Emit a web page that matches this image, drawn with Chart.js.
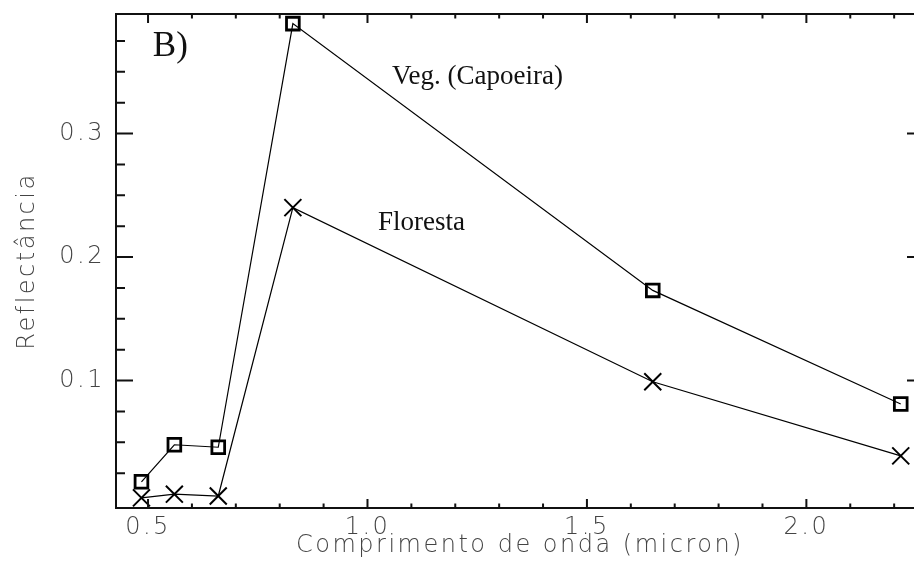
<!DOCTYPE html>
<html>
<head>
<meta charset="utf-8">
<script src="https://cdn.jsdelivr.net/npm/chart.js@4.4.0/dist/chart.umd.min.js"></script>
<style>
  html, body { margin: 0; padding: 0; background: #fff; overflow: hidden; }
  #wrap { width: 940px; height: 568px; }
</style>
</head>
<body>
<div id="wrap"><canvas id="spectraChart"></canvas></div>
<script>
// Landsat TM band centres (micron) and reflectance
const wavelengths = [0.485, 0.56, 0.66, 0.83, 1.65, 2.215];
const capoeira = [0.018, 0.048, 0.046, 0.389, 0.173, 0.081];
const floresta = [0.005, 0.008, 0.0065, 0.240, 0.099, 0.039];

const xTickLabels = [0.5, 1.0, 1.5, 2.0];
const yTickLabels = [0.1, 0.2, 0.3];
const xMinorTicks = [0.5, 0.6, 0.7, 0.8, 0.9, 1.0, 1.1, 1.2, 1.3, 1.4, 1.5, 1.6, 1.7, 1.8, 1.9, 2.0, 2.1, 2.2];
const yMinorTicks = [0.025, 0.05, 0.075, 0.1, 0.125, 0.15, 0.175, 0.2, 0.225, 0.25, 0.275, 0.3, 0.325, 0.35, 0.375];

// text notes placed in data units
const notes = [
  { text: 'B)', x: 0.511, y: 0.370, size: 35 },
  { text: 'Veg. (Capoeira)', x: 1.056, y: 0.346, size: 27 },
  { text: 'Floresta', x: 1.024, y: 0.2274, size: 27 }
];

const axisFont = { family: 'DejaVu Sans', size: 24, weight: 200 };
const axisColor = '#444';

const isMajor = (v, majors) => majors.some(m => Math.abs(m - v) < 1e-6);

const spacing = {
  id: 'spacing',
  beforeUpdate(chart) { chart.ctx.letterSpacing = '2.5px'; },
  beforeDraw(chart) { chart.ctx.letterSpacing = '2.5px'; }
};

const frameTicks = {
  id: 'frameTicks',
  afterDatasetsDraw(chart) {
    const { ctx, chartArea: a, scales: { x, y } } = chart;
    ctx.save();
    ctx.strokeStyle = '#111';
    ctx.lineWidth = 2;
    ctx.strokeRect(a.left, a.top, a.right - a.left, a.bottom - a.top);
    ctx.beginPath();
    xMinorTicks.forEach(v => {
      const px = x.getPixelForValue(v);
      const len = isMajor(v, xTickLabels) ? 9 : 4.5;
      ctx.moveTo(px, a.bottom); ctx.lineTo(px, a.bottom - len);
      ctx.moveTo(px, a.top); ctx.lineTo(px, a.top + len);
    });
    yMinorTicks.forEach(v => {
      const py = y.getPixelForValue(v);
      const len = isMajor(v, yTickLabels) ? 17 : 9;
      ctx.moveTo(a.left, py); ctx.lineTo(a.left + len, py);
      ctx.moveTo(a.right, py); ctx.lineTo(a.right - len, py);
    });
    ctx.stroke();

    // notes
    ctx.letterSpacing = '0px';
    ctx.fillStyle = '#111';
    ctx.textAlign = 'left';
    ctx.textBaseline = 'middle';
    notes.forEach(n => {
      ctx.font = n.size + 'px "Liberation Serif", "Times New Roman", serif';
      ctx.fillText(n.text, x.getPixelForValue(n.x), y.getPixelForValue(n.y));
    });
    ctx.restore();
  }
};

const ctx = document.getElementById('spectraChart').getContext('2d');
new Chart(ctx, {
  type: 'line',
  data: {
    datasets: [
      {
        label: 'Veg. (Capoeira)',
        data: wavelengths.map((w, i) => ({ x: w, y: capoeira[i] })),
        borderColor: '#000',
        borderWidth: 1.2,
        pointStyle: 'rect',
        pointRadius: 9,
        pointBorderWidth: 2.8,
        pointBorderColor: '#000',
        pointBackgroundColor: 'rgba(0,0,0,0)',
        tension: 0
      },
      {
        label: 'Floresta',
        data: wavelengths.map((w, i) => ({ x: w, y: floresta[i] })),
        borderColor: '#000',
        borderWidth: 1.2,
        pointStyle: 'crossRot',
        pointRadius: 12,
        pointBorderWidth: 2,
        pointBorderColor: '#000',
        tension: 0
      }
    ]
  },
  options: {
    responsive: true,
    maintainAspectRatio: false,
    animation: false,
    layout: { padding: { top: 12, right: 16, left: 0, bottom: 0 } },
    plugins: {
      legend: { display: false },
      tooltip: { enabled: false }
    },
    scales: {
      x: {
        type: 'linear',
        min: 0.427,
        max: 2.268,
        grid: { display: false, drawTicks: false },
        border: { display: false },
        afterBuildTicks: s => { s.ticks = xTickLabels.map(v => ({ value: v })); },
        afterFit: s => { s.height = 60; s.paddingLeft = 0; s.paddingRight = 0; },
        ticks: {
          padding: 5,
          color: axisColor,
          font: axisFont,
          maxRotation: 0,
          callback: v => v.toFixed(1)
        },
        title: {
          display: true,
          text: 'Comprimento de onda (micron)',
          color: axisColor,
          font: axisFont,
          padding: { top: 0, bottom: 8 }
        }
      },
      y: {
        min: -0.0032,
        max: 0.3968,
        grid: { display: false, drawTicks: false },
        border: { display: false },
        afterBuildTicks: s => { s.ticks = yTickLabels.map(v => ({ value: v })); },
        afterFit: s => { s.width = 116; s.paddingTop = 0; s.paddingBottom = 0; },
        ticks: {
          padding: 11,
          color: axisColor,
          font: axisFont,
          callback: v => v.toFixed(1)
        },
        title: {
          display: true,
          text: 'Reflectância',
          color: axisColor,
          font: axisFont,
          padding: { top: 13, bottom: 0 }
        }
      }
    }
  },
  plugins: [spacing, frameTicks]
});
</script>
</body>
</html>
